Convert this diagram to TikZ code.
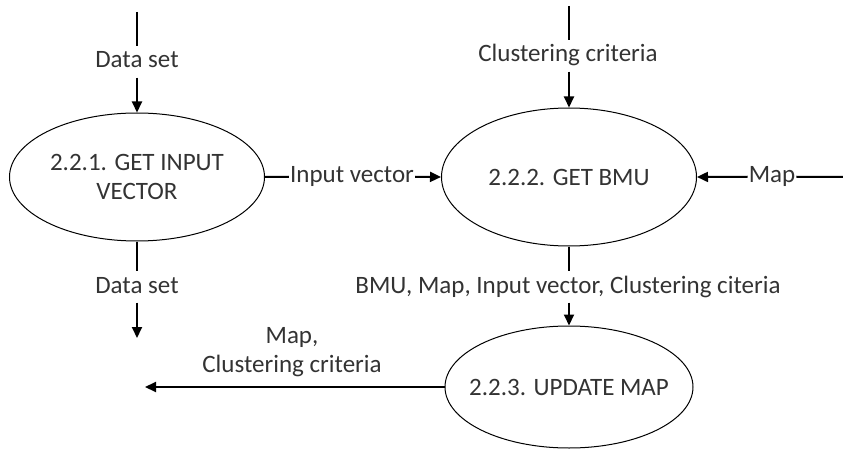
\documentclass[tikz,border=0pt]{standalone}
\usepackage{fontspec}
\setmainfont{Carlito}
\usetikzlibrary{arrows.meta,shapes.geometric}

\begin{document}
\begin{tikzpicture}[x=1pt,y=-1pt,
  proc/.style={draw, ellipse, line width=1pt, inner sep=-40pt, align=center,
               font=\fontsize{25}{29}\selectfont, text=black!80},
  lbl/.style={anchor=base, inner xsep=1pt, inner ysep=2pt, text height=20pt, text depth=7.5pt,
              font=\fontsize{25}{29}\selectfont, text=black!80},
  flow/.style={line width=2pt},
  arr/.style={-{Triangle[length=11pt,width=10pt]}}]
\useasboundingbox (0,0) rectangle (843,449);

% processes
\node[proc, minimum width=255, minimum height=128] (p1) at (137,177) {2.2.1. GET INPUT\\VECTOR};
\node[proc, minimum width=255, minimum height=138] (p2) at (569,177) {2.2.2. GET BMU};
\node[proc, minimum width=248, minimum height=122] (p3) at (569,387) {2.2.3. UPDATE MAP};

% data set into 2.2.1
\coordinate (dsin) at (137,12);
\node[lbl] (ds1) at (137,68) {Data set};
\draw[flow] (dsin) -- (ds1);
\draw[flow,arr] (ds1) -- (p1.north);

% data set out of 2.2.1
\coordinate (dsout) at (137,338);
\node[lbl] (ds2) at (137,293) {Data set};
\draw[flow] (p1.south) -- (ds2);
\draw[flow,arr] (ds2) -- (dsout);

% input vector
\node[lbl] (iv) at (352,183) {Input vector};
\draw[flow] (p1.east) -- (iv.west);
\draw[flow,arr] (iv.east) -- (p2.west);

% clustering criteria into 2.2.2
\coordinate (ccin) at (569,6);
\node[lbl] (cc) at (568,62) {Clustering criteria};
\draw[flow] (ccin) -- (cc.north -| ccin);
\draw[flow,arr] (cc.south -| ccin) -- (p2.north);

% map into 2.2.2
\coordinate (mapin) at (843,177);
\node[lbl] (mp) at (772,183) {Map};
\draw[flow] (mapin) -- (mp.east);
\draw[flow,arr] (mp.west) -- (p2.east);

% 2.2.2 to 2.2.3
\node[lbl] (bm) at (568,293) {BMU, Map, Input vector, Clustering citeria};
\draw[flow] (p2.south) -- (bm.north -| p2.south);
\draw[flow,arr] (bm.south -| p2.south) -- (p3.north);

% output of 2.2.3
\coordinate (out) at (145,387);
\draw[flow,arr] (p3.west) -- (out);
\node[align=center, anchor=base, font=\fontsize{25}{29}\selectfont, text=black!80] (ol) at (292,372) {Map,\\Clustering criteria};
\end{tikzpicture}
\end{document}
